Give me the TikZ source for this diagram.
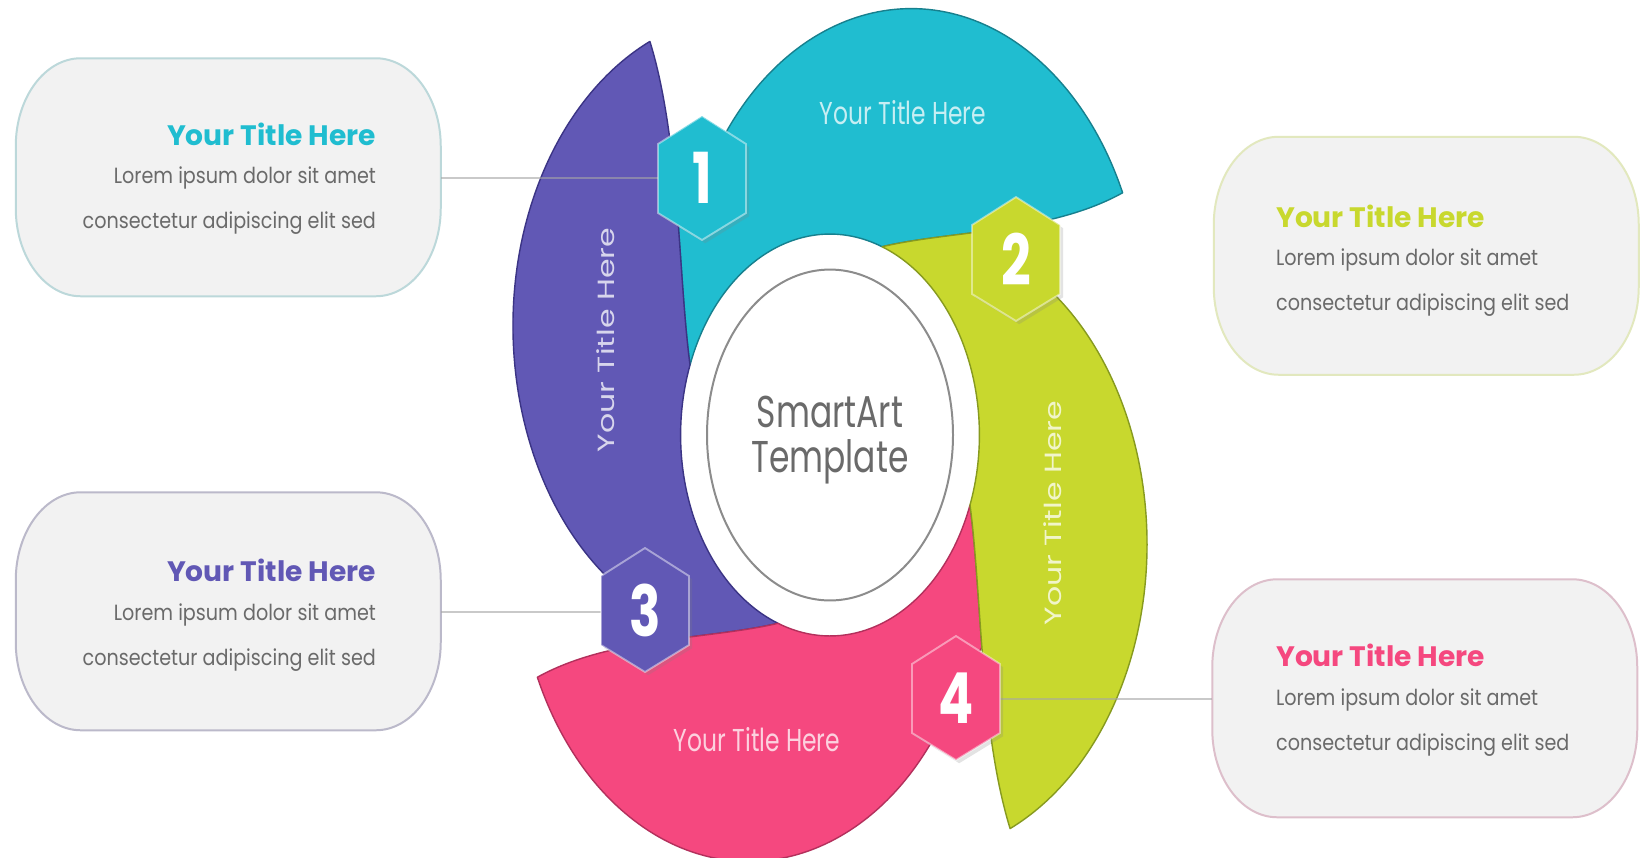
\documentclass[tikz,border=0pt]{standalone}
\usepackage{fontspec}
\setmainfont{Poppins}
\newfontfamily\ringfont[FakeStretch=0.74]{Poppins}
\newfontfamily\sidefont[FakeStretch=1.35]{Poppins}
\newfontfamily\cardfont[FakeStretch=0.87]{Poppins}
\usetikzlibrary{positioning,shadows}

\definecolor{tealc}{HTML}{20BDD0}
\definecolor{tealdk}{HTML}{17808E}
\definecolor{purpc}{HTML}{6158B5}
\definecolor{purpdk}{HTML}{3B3485}
\definecolor{limec}{HTML}{C8D82E}
\definecolor{limedk}{HTML}{879A1F}
\definecolor{pinkc}{HTML}{F5487F}
\definecolor{pinkdk}{HTML}{B3305C}
\definecolor{cardfill}{HTML}{F2F2F2}
\definecolor{card1}{HTML}{BCD8DA}
\definecolor{card2}{HTML}{E2E8BE}
\definecolor{card3}{HTML}{BBB9CA}
\definecolor{card4}{HTML}{DDBFCB}
\definecolor{txtgray}{HTML}{6A6A6A}
\definecolor{ringgray}{HTML}{8C8C8C}

\tikzset{
    x=0.03cm,
    y=-0.03cm,
    band/.style = {
        line width=1.2pt,
        line join=round
    },
    hexa/.style = {
        draw=white,
        draw opacity=0.45,
        line width=1.6pt,
        drop shadow={opacity=0.22}
    },
    num/.style = {
        text=white,
        font=\ringfont\bfseries\fontsize{60}{60}\selectfont
    },
    card/.style = {
        minimum width=12.75cm,
        minimum height=7.14cm
    },
    cardline/.style = {
        fill=cardfill,
        line width=1.7pt
    },
    ttl/.style = {
        font=\bfseries\fontsize{24}{26}\selectfont
    },
    body/.style = {
        text=txtgray,
        font=\cardfont\fontsize{18.8}{38.4}\selectfont
    },
    lbl/.style = {
        text=white,
        text opacity=0.75,
        font=\ringfont\fontsize{27}{27}\selectfont
    },
    side/.style = {
        text=white,
        text opacity=0.75,
        rotate=90,
        font=\sidefont\fontsize{20}{20}\selectfont
    },
    link/.style = {
        draw=gray!70,
        draw opacity=0.6,
        line width=1.7pt
    },
}

\begin{document}
\begin{tikzpicture}
    \path[use as bounding box, fill=white] (0,0) rectangle (1643,857);

    % swirl, drawn round the hub centre
    \begin{scope}[shift={(830,435)}, yscale=-1.345]
        \draw[band, fill=tealc, draw=tealdk] (52,140) arc[start angle=69.6, end angle=159.6, radius=149.3] .. controls (-145.4,82.6) and (-148,119.7) .. (-151.9,157.8) -- (-119.9,201) arc[start angle=150, end angle=24.2, radius=232] .. controls (220,150) and (120,152) .. (52,140) -- cycle;
        \draw[band, fill=purpc, draw=purpdk, rotate=-90] (52,140) arc[start angle=69.6, end angle=159.6, radius=149.3] .. controls (-145.4,82.6) and (-148,119.7) .. (-151.9,157.8) -- (-119.9,201) arc[start angle=150, end angle=24.2, radius=232] .. controls (220,150) and (120,152) .. (52,140) -- cycle;
        \draw[band, fill=pinkc, draw=pinkdk, rotate=180] (52,140) arc[start angle=69.6, end angle=159.6, radius=149.3] .. controls (-145.4,82.6) and (-148,119.7) .. (-151.9,157.8) -- (-119.9,201) arc[start angle=150, end angle=24.2, radius=232] .. controls (220,150) and (120,152) .. (52,140) -- cycle;
        \draw[band, fill=limec, draw=limedk, rotate=90] (52,140) arc[start angle=69.6, end angle=159.6, radius=149.3] .. controls (-145.4,82.6) and (-148,119.7) .. (-151.9,157.8) -- (-119.9,201) arc[start angle=150, end angle=24.2, radius=232] .. controls (220,150) and (120,152) .. (52,140) -- cycle;
        \fill[white] (0,0) circle[radius=145];
        \draw[ringgray, line width=1.7pt] (0,0) circle[radius=123];
    \end{scope}

    \node[text=txtgray, align=center, font=\ringfont\fontsize{38}{39}\selectfont] (hub) at (830,440) {SmartArt\\Template};

    \coordinate (c1) at (702,178);
    \coordinate (c2) at (1016,259);
    \coordinate (c3) at (645,610);
    \coordinate (c4) at (956,698);

    \node[card] (box1) at (228.5,177.5) {};
    \node[card] (box2) at (1426.5,256) {};
    \node[card] (box3) at (228.5,611.5) {};
    \node[card] (box4) at (1425,698.5) {};

    % pill outlines with oval ends
    \draw[cardline, draw=card1] (box1.north west) ++(65,0) -- ++(295,0) arc[start angle=-90, end angle=0, x radius=65, y radius=88] -- ++(0,62) arc[start angle=0, end angle=90, x radius=65, y radius=88] -- ++(-295,0) arc[start angle=90, end angle=180, x radius=65, y radius=88] -- ++(0,-62) arc[start angle=180, end angle=270, x radius=65, y radius=88] -- cycle;
    \draw[cardline, draw=card2] (box2.north west) ++(65,0) -- ++(295,0) arc[start angle=-90, end angle=0, x radius=65, y radius=88] -- ++(0,62) arc[start angle=0, end angle=90, x radius=65, y radius=88] -- ++(-295,0) arc[start angle=90, end angle=180, x radius=65, y radius=88] -- ++(0,-62) arc[start angle=180, end angle=270, x radius=65, y radius=88] -- cycle;
    \draw[cardline, draw=card3] (box3.north west) ++(65,0) -- ++(295,0) arc[start angle=-90, end angle=0, x radius=65, y radius=88] -- ++(0,62) arc[start angle=0, end angle=90, x radius=65, y radius=88] -- ++(-295,0) arc[start angle=90, end angle=180, x radius=65, y radius=88] -- ++(0,-62) arc[start angle=180, end angle=270, x radius=65, y radius=88] -- cycle;
    \draw[cardline, draw=card4] (box4.north west) ++(65,0) -- ++(295,0) arc[start angle=-90, end angle=0, x radius=65, y radius=88] -- ++(0,62) arc[start angle=0, end angle=90, x radius=65, y radius=88] -- ++(-295,0) arc[start angle=90, end angle=180, x radius=65, y radius=88] -- ++(0,-62) arc[start angle=180, end angle=270, x radius=65, y radius=88] -- cycle;

    \draw[link] (box1.east) -- (box1.east -| c1);
    \draw[link] (box3.east) -- (box3.east -| c3);
    \draw[link] (box4.west) -- (box4.west -| c4);

    \draw[hexa, fill=tealc] (c1) ++(0,-62) -- ++(44,28) -- ++(0,69) -- ++(-44,27) -- ++(-44,-27) -- ++(0,-69) -- cycle;
    \draw[hexa, fill=limec] (c2) ++(0,-62) -- ++(44,28) -- ++(0,69) -- ++(-44,27) -- ++(-44,-27) -- ++(0,-69) -- cycle;
    \draw[hexa, fill=purpc] (c3) ++(0,-62) -- ++(44,28) -- ++(0,69) -- ++(-44,27) -- ++(-44,-27) -- ++(0,-69) -- cycle;
    \draw[hexa, fill=pinkc] (c4) ++(0,-62) -- ++(44,28) -- ++(0,69) -- ++(-44,27) -- ++(-44,-27) -- ++(0,-69) -- cycle;
    \node[num] (h1) at (c1) {1};
    \node[num] (h2) at (c2) {2};
    \node[num] (h3) at (c3) {3};
    \node[num] (h4) at (c4) {4};

    \node[lbl] (lb1) at (903,113) {Your Title Here};
    \node[side] (lb2) at (1053,513) {Your Title Here};
    \node[side] (lb3) at (606,340) {Your Title Here};
    \node[lbl] (lb4) at (757,740) {Your Title Here};

    \node[ttl, text=tealc, anchor=east] (ttl1) at (380,134) {Your Title Here};
    \node[body, align=right, anchor=east] (txt1) at (380,200.5) {Lorem ipsum dolor sit amet\\consectetur adipiscing elit sed};
    \node[ttl, text=limec, anchor=west] (ttl2) at (1272,216) {Your Title Here};
    \node[body, align=left, anchor=west] (txt2) at (1272,282.7) {Lorem ipsum dolor sit amet\\consectetur adipiscing elit sed};
    \node[ttl, text=purpc, anchor=east] (ttl3) at (380,570.5) {Your Title Here};
    \node[body, align=right, anchor=east] (txt3) at (380,638) {Lorem ipsum dolor sit amet\\consectetur adipiscing elit sed};
    \node[ttl, text=pinkc, anchor=west] (ttl4) at (1272,655) {Your Title Here};
    \node[body, align=left, anchor=west] (txt4) at (1272,723) {Lorem ipsum dolor sit amet\\consectetur adipiscing elit sed};
\end{tikzpicture}
\end{document}
